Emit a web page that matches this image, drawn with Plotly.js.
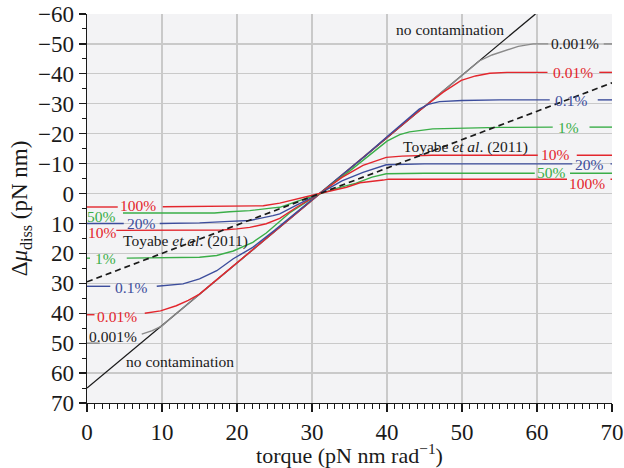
<!DOCTYPE html>
<html>
<head>
<meta charset="utf-8">
<script src="https://cdn.plot.ly/plotly-3.0.1.min.js"></script>
<style>html,body{margin:0;padding:0;background:#fff;}#chart{width:624px;height:468px;}</style>
</head>
<body>
<div id="chart"></div>
<script>
// ---- data (torque in pN nm rad^-1, Δμ_diss in pN nm); null = gap for a label
var xNoCont = [0, 59.8];
var yNoCont = [65, -60];

var xToyabe = [0, 70];
var yToyabe = [29.5, -37];

var x100 = [0, 4.1, null, 10.1, 20, 23.5, 25.7, 27.9, 31, 34.6, 36.4, 39.5, 40.2, 64, null, 69.8, 70];
var y100 = [4.5, 4.5, null, 4.4, 4.3, 4.1, 3.2, 1.8, 0, -2.1, -3.6, -4.5, -4.8, -4.8, null, -4.8, -4.8];

var x50 = [4.8, 17, 19, 21.7, 24.8, 25.7, 28, 31, 33.5, 35.9, 38, 39.9, 45, 59.7, null, 64.4, 70];
var y50 = [6.5, 6.5, 6.1, 5.7, 4.8, 4.6, 2.6, 0, -1.9, -3.5, -5.5, -6.6, -6.8, -6.8, null, -6.8, -6.8];

var x20 = [0, 4.9, null, 9.7, 15, 19, 21.7, 24.8, 25.7, 28, 31, 34, 36.8, 39.9, 45, 64.7, null, 69.8, 70];
var y20 = [10, 10, null, 10, 9.8, 9.3, 9.0, 7.4, 6.8, 3.8, 0, -4.2, -7.1, -9.6, -9.9, -9.9, null, -9.9, -9.9];

var x10 = [3.9, 18, 20, 21.7, 23.9, 25.7, 28, 31, 34, 36.8, 39.9, 42, 46, 60.1, null, 65.3, 70];
var y10 = [12.3, 12.2, 11.8, 11.3, 10.1, 8.3, 4.5, 0, -5.4, -9.4, -12.1, -12.5, -12.8, -12.8, null, -12.8, -12.8];

var x1 = [0, 0.4, null, 5.3, 15, 17.3, 19.5, 22.1, 23.9, 27, 31, 35, 38.6, 40, 41.7, 43, 46.1, 50, 55, 62.1, null, 67, 70];
var y1 = [21.6, 21.6, null, 21.6, 21.3, 20.7, 19.2, 16.3, 13.2, 6.5, 0, -7.5, -14.5, -17.5, -19.7, -20.6, -21.6, -21.9, -22.1, -22.2, null, -22.2, -22.2];

var x01 = [0, 3.1, null, 9.3, 12.8, 15, 17.3, 19.5, 22.1, 25, 28, 31, 34, 37, 40, 42, 43, 44.3, 45.5, 47, 50, 55, 61.7, null, 68.1, 70];
var y01 = [31, 31, null, 31, 30.2, 28.5, 25.8, 21.8, 18, 12.3, 6.2, 0, -6.2, -12.4, -19, -23.3, -25.5, -28.2, -29.8, -30.7, -31.1, -31.3, -31.3, null, -31.3, -31.3];

var x001 = [0, 1.0, null, 7.7, 9.8, 11.9, 13.5, 15, 20, 25, 31, 36, 41, 44, 45.7, 47.5, 49.9, 51.8, 53.7, 56, 61.4, null, 68.3, 70];
var y001 = [40.5, 40.5, null, 40, 39.2, 37.5, 35.7, 33.6, 23.2, 12.7, 0, -10.4, -20.8, -27.1, -30.5, -33.9, -37.8, -39.3, -40.2, -40.5, -40.5, null, -40.5, -40.5];

var x0001 = [0, 1.7, null, 7.3, 8.7, 10, 11, 20, 31, 40, 48, 50.5, 52.3, 54, 55.9, 57.5, 59.5, 61.5, null, 68.9, 70];
var y0001 = [50, 50, null, 47, 45.8, 44.2, 42, 23.2, 0, -18.8, -35.3, -40.5, -44.3, -46.3, -48, -49.2, -50, -50, null, -50, -50];

// label texts and positions (data coords)
var labelText = ["100%", "50%", "20%", "10%", "Toyabe <i>et al</i>. (2011)", "1%", "0.1%", "0.01%", "0.001%", "no contamination",
                 "no contamination", "0.001%", "0.01%", "0.1%", "1%", "Toyabe <i>et al</i>. (2011)", "10%", "20%", "50%", "100%"];
var labelX = [6.85, 1.95, 7.2, 2.0, 13.1, 2.5, 5.8, 4.0, 3.4, 12.4,
              48.4, 65.1, 64.8, 64.5, 64.2, 50.4, 62.4, 67.0, 61.9, 66.6];
var labelY = [3.9, 7.6, 9.9, 13.0, 15.7, 21.6, 31.4, 41.0, 47.7, 56.1,
              -54.8, -50, -40.6, -31.1, -22.2, -15.5, -13.0, -9.6, -6.9, -3.4];

var RED = "#e3262d", GREEN = "#3aae48", BLUE = "#3c4d9c", GRAY = "#8a8a8a", BLACK = "#1a1a1a";
var labelColor = [RED, GREEN, BLUE, RED, BLACK, GREEN, BLUE, RED, BLACK, BLACK,
                  BLACK, BLACK, RED, BLUE, GREEN, BLACK, RED, BLUE, GREEN, RED];

var FONT = "'Liberation Serif', 'Times New Roman', serif";

function line(x, y, color, dash, w) {
  return {x: x, y: y, type: "scatter", mode: "lines", connectgaps: false, hoverinfo: "skip",
          line: {color: color, width: w || 1.4, dash: dash || "solid"}};
}

var traces = [
  line(xNoCont, yNoCont, BLACK, "solid", 1.3),
  line(x0001, y0001, GRAY),
  line(x001, y001, RED),
  line(x01, y01, BLUE),
  line(x1, y1, GREEN),
  line(x10, y10, RED),
  line(x20, y20, BLUE),
  line(x50, y50, GREEN),
  line(x100, y100, RED),
  line(xToyabe, yToyabe, BLACK, "6px,4px", 1.7)
];

var annotations = labelText.map(function (t, i) {
  return {x: labelX[i], y: labelY[i], xref: "x", yref: "y", text: t, showarrow: false,
          xanchor: "center", yanchor: "middle", font: {family: FONT, size: 15.5, color: labelColor[i]}};
});

var layout = {
  width: 624, height: 468,
  margin: {l: 87, r: 12, t: 14, b: 65, pad: 0},
  paper_bgcolor: "#ffffff",
  plot_bgcolor: "#f3f3f5",
  showlegend: false,
  font: {family: FONT, size: 23, color: "#1a1a1a"},
  xaxis: {
    range: [0, 70], dtick: 10, tick0: 0, showgrid: true, gridcolor: "#c9c9c9", gridwidth: 1.2,
    zeroline: false, showline: true, linecolor: "#1a1a1a", linewidth: 1.3,
    ticks: "outside", ticklen: 8, tickwidth: 1.2, tickcolor: "#1a1a1a",
    minor: {dtick: 1, ticks: "outside", ticklen: 5, tickwidth: 1, tickcolor: "#1a1a1a", showgrid: false},
    tickfont: {family: FONT, size: 23},
    title: {text: "torque (pN nm rad<sup>\u22121</sup>)", font: {family: FONT, size: 22}, standoff: 2}
  },
  yaxis: {
    range: [70, -60], dtick: 10, tick0: 0, showgrid: true, gridcolor: "#c9c9c9", gridwidth: 1.2,
    zeroline: false, showline: true, linecolor: "#1a1a1a", linewidth: 1.3,
    ticks: "outside", ticklen: 7, tickwidth: 1.2, tickcolor: "#1a1a1a",
    minor: {dtick: 5, ticks: "outside", ticklen: 4, tickwidth: 1, tickcolor: "#1a1a1a", showgrid: false},
    tickfont: {family: FONT, size: 23},
    title: {text: "\u0394<i>\u03bc</i><sub>diss</sub> (pN nm)", font: {family: FONT, size: 23}, standoff: 4}
  },
  annotations: annotations
};

Plotly.newPlot("chart", traces, layout, {staticPlot: true, displayModeBar: false});
</script>
</body>
</html>
